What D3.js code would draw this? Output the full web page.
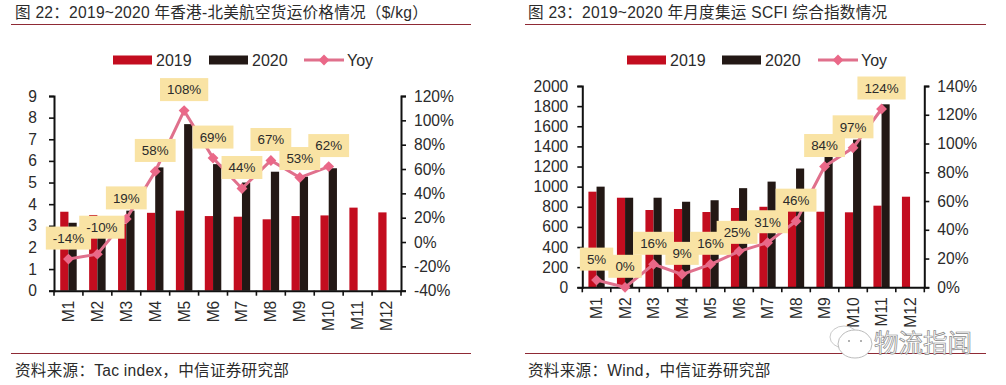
<!DOCTYPE html>
<html>
<head>
<meta charset="utf-8">
<script src="https://cdnjs.cloudflare.com/ajax/libs/d3/7.8.5/d3.min.js"></script>
<style>
    html, body { margin: 0; padding: 0; background: #fff; }
    svg text { font-family: "Liberation Sans", "Noto Sans CJK SC", sans-serif; fill: #2b2b2b; }
</style>
</head>
<body>
<div id="chart"></div>
<script>
const months = ['M1', 'M2', 'M3', 'M4', 'M5', 'M6', 'M7', 'M8', 'M9', 'M10', 'M11', 'M12'];

// Figure 22: air freight rate, $/kg
const air2019 = [3.65, 3.5, 3.1, 3.6, 3.7, 3.45, 3.42, 3.3, 3.45, 3.48, 3.84, 3.62];
const air2020 = [3.14, 3.15, 3.7, 5.7, 7.7, 5.85, 5.0, 5.5, 5.27, 5.66, null, null];
const airYoy = [-14, -10, 19, 58, 108, 69, 44, 67, 53, 62];
const airLeftTicks = [0, 1, 2, 3, 4, 5, 6, 7, 8, 9];
const airRightTicks = [-40, -20, 0, 20, 40, 60, 80, 100, 120];

// Figure 23: SCFI index
const scfi2019 = [950, 890, 768, 778, 748, 788, 800, 805, 751, 745, 811, 900];
const scfi2020 = [1000, 890, 890, 850, 865, 985, 1050, 1180, 1380, 1467, 1818, null];
const scfiYoy = [5, 0, 16, 9, 16, 25, 31, 46, 84, 97, 124];
const scfiLeftTicks = [0, 200, 400, 600, 800, 1000, 1200, 1400, 1600, 1800, 2000];
const scfiRightTicks = [0, 20, 40, 60, 80, 100, 120, 140];

const RED = '#c30d1f', BLACK = '#231815', PINK = '#e0708c', DIAMOND = '#ea6888', LABEL_BG = '#f9e3a4', RULE = '#8f2a35';

const svg = d3.select('#chart').append('svg')
    .attr('width', 1006)
    .attr('height', 385)
    .style('display', 'block');

const diamond = d3.symbol().type(d3.symbolDiamond2);

function drawPanel(cfg) {
    const g = svg.append('g');

    // title and source, with the thin rules
    g.append('text').attr('x', cfg.textX).attr('y', 18).attr('font-size', 15.6).attr('letter-spacing', 0.25).text(cfg.title);
    g.append('line').attr('x1', cfg.ruleX[0]).attr('x2', cfg.ruleX[1]).attr('y1', 24.5).attr('y2', 24.5).attr('stroke', RULE);
    g.append('line').attr('x1', cfg.ruleX[0]).attr('x2', cfg.ruleX[1]).attr('y1', 353.5).attr('y2', 353.5).attr('stroke', RULE);
    g.append('text').attr('x', cfg.textX).attr('y', 375.5).attr('font-size', 15.6).attr('letter-spacing', 0.25).text(cfg.source);

    const x = d3.scaleBand().domain(months).range(cfg.xRange);
    const yLeft = d3.scaleLinear().domain(d3.extent(cfg.leftTicks)).range(cfg.yRange);
    const yRight = d3.scaleLinear().domain(d3.extent(cfg.rightTicks)).range(cfg.yRange);
    const barW = x.bandwidth() * 0.285;

    // bars
    g.append('g').selectAll('rect').data(cfg.s2019).join('rect')
        .attr('x', (d, i) => x(months[i]) + x.bandwidth() / 2 - barW)
        .attr('y', d => yLeft(d))
        .attr('width', barW)
        .attr('height', d => yLeft(0) - yLeft(d))
        .attr('fill', RED);
    g.append('g').selectAll('rect').data(cfg.s2020.filter(d => d !== null)).join('rect')
        .attr('x', (d, i) => x(months[i]) + x.bandwidth() / 2)
        .attr('y', d => yLeft(d))
        .attr('width', barW)
        .attr('height', d => yLeft(0) - yLeft(d))
        .attr('fill', BLACK);

    // axes
    const styleAxis = (sel, size) => {
        sel.selectAll('.domain').attr('stroke', '#111').attr('stroke-width', 2);
        sel.selectAll('.tick line').attr('stroke', '#111').attr('stroke-width', 1.6);
        sel.selectAll('.tick text').attr('font-size', size);
    };
    g.append('g').attr('transform', `translate(${cfg.xRange[0]},0)`)
        .call(d3.axisLeft(yLeft).tickValues(cfg.leftTicks).tickFormat(d3.format('d')).tickSize(5).tickSizeOuter(5).tickPadding(cfg.leftPad))
        .call(styleAxis, 15.6);
    g.append('g').attr('transform', `translate(${cfg.xRange[1]},0)`)
        .call(d3.axisRight(yRight).tickValues(cfg.rightTicks).tickFormat(d => d + '%').tickSize(5).tickSizeOuter(5).tickPadding(cfg.rightPad))
        .call(styleAxis, 15.6);

    const xAxis = g.append('g').attr('transform', `translate(0,${cfg.yRange[0]})`)
        .call(d3.axisBottom(x).tickSize(0));
    styleAxis(xAxis, 15.6);
    xAxis.selectAll('.tick text')
        .attr('transform', 'rotate(-90)')
        .attr('text-anchor', 'end')
        .attr('x', -cfg.xLabelGap)
        .attr('y', 0)
        .attr('dy', '.35em');
    // month ticks sit on the band edges
    g.append('g').selectAll('line').data(d3.range(13)).join('line')
        .attr('x1', i => cfg.xRange[0] + i * x.step())
        .attr('x2', i => cfg.xRange[0] + i * x.step())
        .attr('y1', cfg.yRange[0])
        .attr('y2', cfg.yRange[0] + 5)
        .attr('stroke', '#111')
        .attr('stroke-width', 1.6);

    // yoy line and markers
    const px = (d, i) => x(months[i]) + x.bandwidth() / 2;
    const line = d3.line().x(px).y(d => yRight(d));
    g.append('path').datum(cfg.yoy).attr('d', line)
        .attr('fill', 'none').attr('stroke', PINK).attr('stroke-width', 3);
    g.append('g').selectAll('path').data(cfg.yoy).join('path')
        .attr('d', diamond.size(75))
        .attr('transform', (d, i) => `translate(${px(d, i)},${yRight(d)})`)
        .attr('fill', DIAMOND);

    // callout labels go over the line, all boxes first so no text gets covered
    const labelPos = (d, i) => {
        const shift = cfg.labelShift[i] || [0, 0];
        return `translate(${px(d, i) + shift[0]},${yRight(d) - 21 + shift[1]})`;
    };
    const boxes = g.append('g').selectAll('rect').data(cfg.yoy).join('rect')
        .attr('transform', labelPos)
        .attr('fill', LABEL_BG);
    const texts = g.append('g').selectAll('text').data(cfg.yoy).join('text')
        .attr('transform', labelPos)
        .attr('text-anchor', 'middle')
        .attr('dy', '.36em')
        .attr('font-size', 13.4)
        .text(d => d + '%');
    const widths = texts.nodes().map(n => n.getComputedTextLength() + 14);
    boxes.attr('x', (d, i) => -widths[i] / 2)
        .attr('y', -11.5)
        .attr('width', (d, i) => widths[i])
        .attr('height', 23);

    // legend
    const lx = cfg.legendX, ly = 60;
    g.append('rect').attr('x', lx).attr('y', ly - 4.5).attr('width', 39).attr('height', 9).attr('fill', RED);
    g.append('text').attr('x', lx + 43).attr('y', ly + 5.5).attr('font-size', 16).text('2019');
    g.append('rect').attr('x', lx + cfg.legendGap).attr('y', ly - 4.5).attr('width', 39).attr('height', 9).attr('fill', BLACK);
    g.append('text').attr('x', lx + cfg.legendGap + 43).attr('y', ly + 5.5).attr('font-size', 16).text('2020');
    g.append('line').attr('x1', lx + 191).attr('x2', lx + 231).attr('y1', ly).attr('y2', ly)
        .attr('stroke', PINK).attr('stroke-width', 3);
    g.append('path').attr('d', diamond.size(75))
        .attr('transform', `translate(${lx + 211},${ly})`).attr('fill', DIAMOND);
    g.append('text').attr('x', lx + 234).attr('y', ly + 5.5).attr('font-size', 16).text('Yoy');
}

drawPanel({
    title: '图 22：2019~2020 年香港-北美航空货运价格情况（$/kg）',
    source: '资料来源：Tac index，中信证券研究部',
    textX: 15,
    ruleX: [11, 471],
    xRange: [54, 401],
    yRange: [290.7, 96],
    xLabelGap: 10,
    leftPad: 12,
    rightPad: 8,
    legendX: 113,
    legendGap: 96,
    s2019: air2019,
    s2020: air2020,
    yoy: airYoy,
    leftTicks: airLeftTicks,
    rightTicks: airRightTicks,
    labelShift: { 1: [4.5, -6], 8: [0, 2] }
});

drawPanel({
    title: '图 23：2019~2020 年月度集运 SCFI 综合指数情况',
    source: '资料来源：Wind，中信证券研究部',
    textX: 528,
    ruleX: [525, 986],
    xRange: [582.3, 924.3],
    yRange: [287.3, 86],
    xLabelGap: 10,
    leftPad: 9,
    rightPad: 8,
    legendX: 627,
    legendGap: 95,
    s2019: scfi2019,
    s2020: scfi2020,
    yoy: scfiYoy,
    leftTicks: scfiLeftTicks,
    rightTicks: scfiRightTicks,
    labelShift: { 5: [-2, 2] }
});

// watermark in the corner, outlined chat bubbles and name
const mark = svg.append('g');
mark.append('ellipse').attr('cx', 844).attr('cy', 337).attr('rx', 14).attr('ry', 11)
    .attr('fill', '#fff').attr('stroke', '#bbb').attr('stroke-width', 0.8);
mark.append('ellipse').attr('cx', 855).attr('cy', 344).attr('rx', 17).attr('ry', 14)
    .attr('fill', '#fff').attr('stroke', '#aaa').attr('stroke-width', 0.8);
mark.selectAll('circle').data([849, 861]).join('circle')
    .attr('cx', d => d).attr('cy', 341).attr('r', 1).attr('fill', '#999');
mark.append('text')
    .attr('x', 874).attr('y', 352)
    .attr('font-size', 24.5)
    .style('fill', '#fff')
    .attr('stroke', '#888')
    .attr('stroke-width', 0.7)
    .text('物流指闻');
</script>
</body>
</html>
